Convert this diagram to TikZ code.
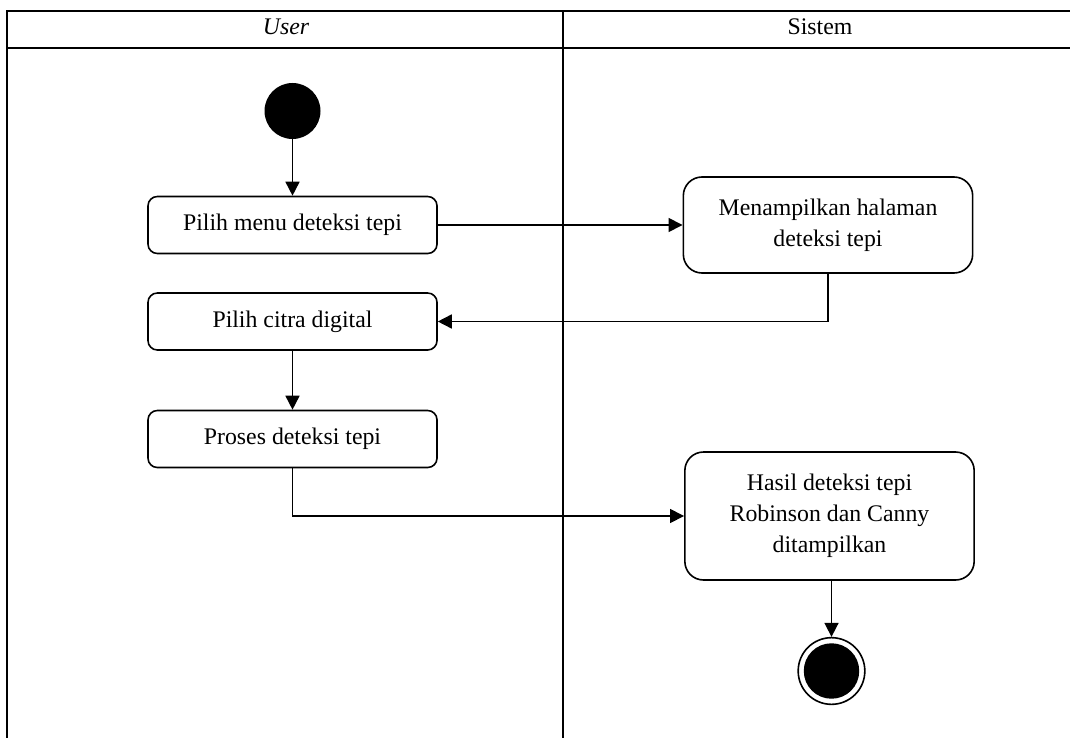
\documentclass[tikz,border=0pt]{standalone}
\usepackage{fontspec}
\setmainfont{Liberation Serif}
\usetikzlibrary{arrows.meta}
\tikzset{
  frame/.style={line width=1.5pt},
  act/.style={draw, line width=1.2pt, rounded corners=7pt, align=center, inner sep=0pt,
    font=\fontsize{17.85}{23.25}\selectfont},
  smallact/.style={act, minimum width=216.75pt, minimum height=42.75pt},
  bigact/.style={act, rounded corners=14pt, minimum width=217pt},
  flow/.style={line width=1.2pt, -{Triangle[length=10.5pt,width=10.5pt]}},
  hdr/.style={font=\fontsize{17.85}{23.25}\selectfont, inner sep=0pt, anchor=base}
}
\begin{document}
\begin{tikzpicture}[x=0.75pt, y=-0.75pt]
\useasboundingbox (0,0) rectangle (1070,738);
% swimlane frame
\draw[frame] (7,738) -- (7,11) -- (1070,11);
\draw[frame] (7,48) -- (1070,48);
\draw[frame] (563,11) -- (563,738);
\node[hdr] (huser) at (286,35) {\itshape User};
\node[hdr] (hsys) at (820,35) {Sistem};
% nodes
\node[circle, fill=black, minimum size=42pt, inner sep=0pt] (start) at (292.5,111) {};
\node[smallact] (b1) at (292.5,225) {Pilih menu deteksi tepi};
\node[bigact, minimum height=72pt] (m) at (828,225) {Menampilkan halaman\\deteksi tepi};
\node[smallact] (b2) at (292.5,321.5) {Pilih citra digital};
\node[smallact] (b3) at (292.5,439) {Proses deteksi tepi};
\node[bigact, minimum height=96pt] (h) at (829.5,516) {Hasil deteksi tepi\\Robinson dan Canny\\ditampilkan};
\node[circle, draw, line width=1.2pt, fill=white, minimum size=50pt, inner sep=0pt] (e) at (831.5,671) {};
\fill (e.center) circle (20.8pt);
% connectors
\draw[flow] (start) -- (b1);
\draw[flow] (b1) -- (m);
\draw[flow] (m.south) |- (b2.east);
\draw[flow] (b2) -- (b3);
\draw[flow] (b3.south) |- (h.west);
\draw[flow] (h.south -| e.north) -- (e.north);
\end{tikzpicture}
\end{document}
